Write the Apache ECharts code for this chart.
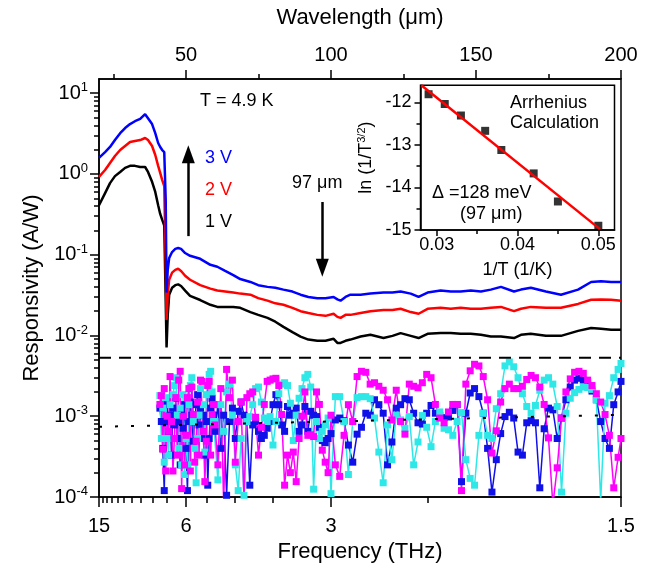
<!DOCTYPE html>
<html>
<head>
<meta charset="utf-8">
<script src="https://cdn.jsdelivr.net/npm/echarts@6/dist/echarts.min.js"></script>
<style>
html, body { margin: 0; padding: 0; background: #fff; }
#chart { width: 654px; height: 570px; }
</style>
</head>
<body>
<div id="chart"></div>
<script>
// Wavelength (µm) = C / frequency (THz), using c ≈ 300 µm·THz
const C_UM_THZ = 300;

// ---- Photoresponse spectra (wavelength in µm, responsivity in A/W) ----
const spectrumWavelength = [20.0, 22.1, 23.8, 25.5, 27.3, 29.0, 30.7, 32.4, 34.2, 35.9,
  36.9, 38.3, 39.4, 40.4, 41.1, 41.8, 42.5, 43.0, 43.3, 43.7,
  44.2, 45.2, 46.3, 47.3, 48.3, 49.7, 51.4, 54.9, 58.4, 60.8,
  63.5, 66.3, 68.7, 72.2, 74.9, 78.1, 80.8, 83.6, 86.7, 89.5,
  92.2, 95.3, 98.1, 100.9, 102.2, 103.3, 105.0, 106.7, 110.2, 113.6,
  118.1, 121.2, 124.0, 127.5, 130.2, 133.3, 137.8, 141.3, 144.7, 148.2,
  151.7, 155.1, 158.6, 163.1, 165.5, 168.9, 174.1, 179.3, 185.2, 189.7,
  193.1, 196.6, 200.0];
const responsivity3V = [1.58, 1.87, 2.16, 2.63, 3.2, 3.7, 4.15, 4.5, 4.8, 5.5,
  4.9, 4.15, 3.2, 2.42, 2.16, 1.98, 1.87, 0.48, 0.034, 0.065,
  0.091, 0.108, 0.118, 0.121, 0.118, 0.105, 0.097, 0.089, 0.075, 0.071,
  0.063, 0.056, 0.05, 0.046, 0.042, 0.04, 0.039, 0.037, 0.035, 0.032,
  0.030, 0.029, 0.029, 0.030, 0.028, 0.027, 0.030, 0.032, 0.032, 0.033,
  0.034, 0.034, 0.035, 0.033, 0.030, 0.034, 0.036, 0.035, 0.035, 0.036,
  0.035, 0.037, 0.040, 0.035, 0.037, 0.039, 0.035, 0.032, 0.037, 0.046,
  0.047, 0.046, 0.046];
const responsivity2V = [0.92, 1.12, 1.37, 1.67, 1.98, 2.22, 2.49, 2.56, 2.63, 2.79,
  2.63, 2.22, 1.72, 1.26, 1.03, 0.84, 0.71, 0.086, 0.0156, 0.032,
  0.049, 0.06, 0.065, 0.067, 0.063, 0.055, 0.049, 0.042, 0.038, 0.036,
  0.035, 0.034, 0.033, 0.032, 0.029, 0.027, 0.025, 0.024, 0.022, 0.020,
  0.019, 0.018, 0.0175, 0.0186, 0.017, 0.0165, 0.018, 0.018, 0.019, 0.020,
  0.0207, 0.0207, 0.0214, 0.0195, 0.0186, 0.0214, 0.022, 0.0214, 0.022, 0.0214,
  0.0214, 0.022, 0.0226, 0.020, 0.0214, 0.0226, 0.022, 0.022, 0.0246, 0.0277,
  0.028, 0.0277, 0.027];
const responsivity1V = [0.41, 0.58, 0.77, 0.94, 1.06, 1.19, 1.26, 1.26, 1.22, 1.22,
  1.06, 0.80, 0.60, 0.41, 0.32, 0.27, 0.23, 0.0275, 0.0071, 0.018,
  0.032, 0.039, 0.042, 0.043, 0.041, 0.036, 0.031, 0.0275, 0.024, 0.0226,
  0.0226, 0.0226, 0.022, 0.0195, 0.018, 0.0165, 0.0148, 0.0128, 0.011, 0.0097,
  0.0089, 0.0086, 0.0086, 0.0091, 0.0081, 0.0081, 0.0086, 0.0089, 0.0097, 0.0102,
  0.0093, 0.0099, 0.0107, 0.0099, 0.0093, 0.0105, 0.0107, 0.0107, 0.0105, 0.0105,
  0.0102, 0.0097, 0.0097, 0.0093, 0.0102, 0.0105, 0.0099, 0.0099, 0.0114, 0.0124,
  0.0121, 0.0118, 0.0118];

// ---- Zero-bias / noise traces (values in units of 1e-4 A/W) ----
const NOISE_UNIT = 1e-4;
const noiseWavelength = [41, 41.5, 42, 42.5, 43, 43.5, 44, 44.5, 45, 45.5,
  46, 46.5, 47, 47.5, 48, 48.5, 49, 49.5, 50, 50.5,
  51, 51.5, 52, 52.5, 53, 53.5, 54, 54.5, 55, 55.5,
  56, 56.5, 57, 57.5, 58, 58.5, 59, 59.5,
  60, 61, 62, 63, 64, 65, 66, 67, 68, 69,
  70, 71, 72, 73, 74, 75, 76, 77, 78, 79,
  80, 81, 82, 83, 84, 85, 86, 87, 88, 89,
  90, 91, 92, 93, 94, 95, 96, 97, 98, 99,
  100, 101.5, 103, 104.5, 106, 107.5, 109, 110.5, 112, 113.5,
  115, 116.5, 118, 119.5, 121, 122.5, 124, 125.5, 127, 128.5,
  130, 131.5, 133, 134.5, 136, 137.5, 139, 140.5, 142, 143.5,
  145, 146.5, 148, 149.5, 151, 152.5, 154, 155.5, 157, 158.5,
  160, 161.5, 163, 164.5, 166, 167.5, 169, 170.5, 172, 173.5,
  175, 176.5, 178, 179.5, 181, 182.5, 184, 185.5, 187, 188.5,
  190, 191.5, 193, 194.5, 196, 197.5, 199, 200];
const noiseMagenta = [14, 18, 3.9, 22, 2.1, 10, 6.5, 31, 8.6, 2.1,
  5.3, 17, 3.3, 28, 36, 1.27, 10, 2.5, 5.8, 17,
  22, 2.1, 23, 10.5, 2.7, 4.9, 15, 3.3, 28, 27,
  6.5, 1.55, 4.9, 24, 27, 3.3, 10.5, 14,
  7.8, 2.5, 22, 0.8, 38, 17, 28, 2.7, 8.6, 15,
  0.9, 17, 19, 20, 9.7, 3.3, 7.3, 14, 27, 28,
  29, 29.5, 24, 10.5, 1.4, 3.3, 2, 3.6, 1.55, 5.3,
  10, 20, 5.8, 5.9, 5.6, 20, 14, 3.8, 2.7, 2,
  10.3, 2.5, 1.8, 5.8, 13.9, 8.6, 31, 36, 35, 25,
  26, 23.5, 21, 16, 9, 21, 8.6, 6, 25, 23.5,
  22.5, 26, 33, 30, 14, 9.5, 8.3, 11.3, 14, 14,
  1.2, 25, 36.5, 44, 42, 31, 16, 3.5, 6.6, 15,
  22, 25, 22, 22, 23.5, 28.5, 32, 30, 23, 14,
  5.4, 0.8, 2.3, 9.5, 20, 29, 35, 36, 34, 28,
  24, 19, 15, 10.5, 5.8, 1.3, 3.1, 5.3];
const noiseCyan = [18, 5.3, 12.6, 2.7, 17, 5.3, 3.3, 13.9, 8.6, 18.5,
  24, 30, 10.3, 4, 12.6, 2.5, 18.5, 1.9, 5.3, 2.5,
  13.9, 24, 30, 8.6, 4, 1.5, 5.3, 10.3, 22, 6.5,
  13.9, 3.6, 18.5, 24, 33, 36, 20, 8.6,
  8.6, 1.63, 13.9, 6.5, 20, 25, 10.3, 2.5, 1.2, 5.3,
  1.05, 8.6, 9.9, 13.9, 22, 23, 15, 9.5, 8.6, 9.9,
  4.4, 8.6, 19, 25, 26, 24, 14.5, 5, 10.3, 16.7,
  22, 30, 33, 23, 1.25, 8.6, 5.3, 6.5, 7.8, 9.5,
  1.1, 17.5, 17.5, 8.6, 1.9, 8.6, 17, 17.5, 17.5, 16.5,
  9.5, 3.6, 1.5, 7.8, 2.9, 10.3, 9, 7.1, 9.9, 2.5,
  4.8, 10.2, 7.3, 4.2, 8.6, 11.3, 7.1, 6.8, 5.8, 8.6,
  11.1, 2.9, 1.7, 1.4, 5.8, 10.9, 5.8, 5.3, 12.4, 19,
  42, 47, 41, 30, 19, 13.2, 10.9, 13.6, 21, 28,
  30, 25, 13.2, 1.15, 10.9, 16.7, 19.6, 21.5, 23, 22.7,
  21.5, 16, 0.9, 14.5, 18, 30, 38, 45];
const noiseBlue = [12.6, 8.6, 4, 1.2, 8.6, 13.9, 5.8, 10.3, 3.3, 12.6,
  7.8, 16.7, 5.3, 8.6, 2.5, 11.5, 7.1, 13.9, 4, 1.2,
  8.6, 15, 10.3, 4.9, 8.6, 13.9, 18.5, 7.8, 12.6, 5.3,
  10.3, 3.3, 8.6, 1.4, 5.3, 12.6, 16.7, 10.3,
  6.5, 13.9, 4, 10.3, 1.05, 8.6, 12.6, 5.3, 11.5, 15,
  10.3, 8.6, 1.4, 7.8, 8.6, 6.5, 5.3, 5.8, 7.1, 8.6,
  13.9, 18.5, 13.9, 7.8, 6.5, 13.2, 10.3, 10.9, 12.6, 6.5,
  7.8, 13.2, 6.5, 11.5, 10.3, 9.9, 7.3, 5, 4.7, 5.3,
  6.1, 9, 9.5, 8.8, 4.4, 2.7, 6, 7.3, 10.9, 10.3,
  16, 13.9, 10.9, 2.5, 4.8, 12.6, 13.9, 16.5, 16, 10.9,
  8.3, 8, 10.9, 13.6, 10.9, 10.2, 9.6, 9.8, 11.8, 13.9,
  1.55, 10.9, 19.4, 22, 17.5, 10.9, 4, 1.15, 2.9, 6.1,
  9.9, 11.2, 9.5, 3.6, 3.3, 8.3, 8.8, 8.3, 1.3, 7,
  12.6, 12, 5.3, 9.5, 16, 23, 28, 29.5, 28, 25,
  20.5, 16, 8.6, 5.3, 4, 13.9, 20, 27];

// Reference levels (A/W)
const dashedLevel = 5.3e-3;
const dottedLevelEnds = [7.4e-4, 1.04e-3]; // at 20 µm and 200 µm
const levelWavelengthEnds = [20, 200];

// Axis ticks
const freqMajor = [15, 6, 3, 1.5];
const freqMinor = [14.1, 13.2, 12.3, 11.4, 10.5, 9.6, 8.7, 7.8, 6.9, 5.25, 4.5, 3.75, 2.25];
const wavelengthMajor = [50, 100, 150, 200];
const wavelengthMinor = [25, 75, 125, 175];
const decades = [1e-4, 1e-3, 1e-2, 1e-1, 1, 10];
const decadeMinors = [];
[1e-4, 1e-3, 1e-2, 1e-1, 1].forEach(d => { for (let m = 2; m <= 9; m++) decadeMinors.push(m * d); });

// ---- Arrhenius inset ----
const invTemperature = [0.029, 0.031, 0.033, 0.036, 0.038, 0.042, 0.045, 0.050];
const lnSignal = [-11.81, -12.04, -12.31, -12.67, -13.12, -13.67, -14.33, -14.9];
const fitInvTemperature = [0.0281, 0.0502];
const fitLnSignal = [-11.6, -14.98];
const insetXMajor = [0.03, 0.04, 0.05];
const insetXMinor = [0.035, 0.045];
const insetYMajor = [-12, -13, -14, -15];
const insetYMinor = [-12.5, -13.5, -14.5];

// Annotation arrows (data coordinates)
const biasArrow = { wavelength: 50.8, from: 0.17, to: 1.75 };
const peakArrow = { wavelength: 97, from: 0.45, to: 0.069 };

const FONT = '"Liberation Sans", Arial, Helvetica, sans-serif';
const zip = (xs, ys, k) => xs.map((x, i) => [x, ys[i] * (k || 1)]);
const toWavelength = f => C_UM_THZ / f;

const axisLineStyle = { color: '#000', width: 1.5 };
const tickStyle = { color: '#000', width: 1.5 };

function mainX(extra) {
  return Object.assign({
    type: 'value', gridIndex: 0, min: 20, max: 200,
    splitLine: { show: false },
    axisLine: { show: false, onZero: false },
    axisLabel: { show: false },
    axisTick: { show: false }
  }, extra);
}

function noiseSeries(name, values, color) {
  return {
    name: name, type: 'line', xAxisIndex: 0, yAxisIndex: 0,
    data: zip(noiseWavelength, values, NOISE_UNIT),
    symbol: 'rect', symbolSize: 7, showAllSymbol: true,
    itemStyle: { color: color }, lineStyle: { color: color, width: 1.5 },
    silent: true, z: 2
  };
}

const option = {
  animation: false,
  backgroundColor: '#fff',
  textStyle: { fontFamily: FONT, color: '#000' },
  grid: [
    { left: 99, right: 33, top: 79, bottom: 73, show: true, borderColor: '#000', borderWidth: 1.5,
      backgroundColor: 'transparent', outerBoundsMode: 'none', containLabel: false },
    { left: 420.5, top: 85.3, width: 194, height: 144.7, show: true, borderColor: '#000', borderWidth: 1.5,
      backgroundColor: '#fff', outerBoundsMode: 'none', containLabel: false }
  ],
  xAxis: [
    mainX({
      position: 'bottom',
      axisLine: { show: true, onZero: false, lineStyle: axisLineStyle },
      axisTick: { show: true, length: 10, lineStyle: tickStyle, customValues: freqMajor.map(toWavelength) },
      axisLabel: {
        show: true, customValues: freqMajor.map(toWavelength), margin: 19,
        fontSize: 20, fontFamily: FONT, color: '#000',
        formatter: v => String(Number((C_UM_THZ / v).toFixed(2)))
      },
      name: 'Frequency (THz)', nameLocation: 'middle', nameGap: 41,
      nameTextStyle: { fontSize: 22, fontFamily: FONT, color: '#000' }
    }),
    mainX({
      position: 'bottom',
      axisTick: { show: true, length: 6, lineStyle: tickStyle, customValues: freqMinor.map(toWavelength) }
    }),
    mainX({
      position: 'top',
      axisLine: { show: true, onZero: false, lineStyle: axisLineStyle },
      axisTick: { show: true, length: 9, lineStyle: tickStyle, customValues: wavelengthMajor },
      axisLabel: {
        show: true, customValues: wavelengthMajor, margin: 14,
        fontSize: 20, fontFamily: FONT, color: '#000',
        formatter: v => String(Math.round(v))
      },
      name: 'Wavelength (\u03bcm)', nameLocation: 'middle', nameGap: 50,
      nameTextStyle: { fontSize: 22, fontFamily: FONT, color: '#000' }
    }),
    mainX({
      position: 'top',
      axisTick: { show: true, length: 5, lineStyle: tickStyle, customValues: wavelengthMinor }
    }),
    {
      type: 'value', gridIndex: 1, min: 0.028, max: 0.052, position: 'bottom',
      splitLine: { show: false },
      axisLine: { show: true, onZero: false, lineStyle: axisLineStyle },
      axisTick: { show: true, length: 6, lineStyle: tickStyle, customValues: insetXMajor },
      axisLabel: {
        customValues: insetXMajor, margin: 6, fontSize: 18, fontFamily: FONT, color: '#000',
        formatter: v => v.toFixed(2)
      },
      name: '1/T (1/K)', nameLocation: 'middle', nameGap: 31,
      nameTextStyle: { fontSize: 18, fontFamily: FONT, color: '#000' }
    },
    {
      type: 'value', gridIndex: 1, min: 0.028, max: 0.052, position: 'bottom',
      splitLine: { show: false },
      axisLine: { show: false, onZero: false },
      axisLabel: { show: false },
      axisTick: { show: true, length: 4, lineStyle: tickStyle, customValues: insetXMinor }
    }
  ],
  yAxis: [
    {
      type: 'log', logBase: 10, gridIndex: 0, min: 1e-4, max: 15, position: 'left',
      splitLine: { show: false },
      axisLine: { show: true, onZero: false, lineStyle: axisLineStyle },
      axisTick: { show: true, length: 9, lineStyle: tickStyle, customValues: decades },
      axisLabel: {
        customValues: decades, margin: 11, color: '#000',
        formatter: v => '{b|10}{s|' + Math.round(Math.log10(v)) + '}',
        rich: {
          b: { fontSize: 20, lineHeight: 24, fontFamily: FONT, color: '#000' },
          s: { fontSize: 13, lineHeight: 13, verticalAlign: 'top', fontFamily: FONT, color: '#000' }
        }
      },
      name: 'Responsivity (A/W)', nameLocation: 'middle', nameGap: 50,
      nameTextStyle: { fontSize: 22, fontFamily: FONT, color: '#000' }
    },
    {
      type: 'log', logBase: 10, gridIndex: 0, min: 1e-4, max: 15, position: 'left',
      splitLine: { show: false },
      axisLine: { show: false, onZero: false },
      axisLabel: { show: false },
      axisTick: { show: true, length: 5, lineStyle: tickStyle, customValues: decadeMinors }
    },
    {
      type: 'value', gridIndex: 1, min: -15, max: -11.6, position: 'left',
      splitLine: { show: false },
      axisLine: { show: true, onZero: false, lineStyle: axisLineStyle },
      axisTick: { show: true, length: 6, lineStyle: tickStyle, customValues: insetYMajor },
      axisLabel: {
        customValues: insetYMajor, margin: 9, fontSize: 18, fontFamily: FONT, color: '#000',
        formatter: v => String(v)
      },
      name: '{a|ln (1/T}{s|3/2}{a|)}', nameLocation: 'middle', nameGap: 44,
      nameTextStyle: {
        rich: {
          a: { fontSize: 18, lineHeight: 20, fontFamily: FONT, color: '#000' },
          s: { fontSize: 11, lineHeight: 11, verticalAlign: 'top', fontFamily: FONT, color: '#000' }
        }
      }
    },
    {
      type: 'value', gridIndex: 1, min: -15, max: -11.6, position: 'left',
      splitLine: { show: false },
      axisLine: { show: false, onZero: false },
      axisLabel: { show: false },
      axisTick: { show: true, length: 4, lineStyle: tickStyle, customValues: insetYMinor }
    }
  ],
  series: [
    noiseSeries('noise-blue', noiseBlue, '#1010e8'),
    noiseSeries('noise-cyan', noiseCyan, '#2ee8e8'),
    noiseSeries('noise-magenta', noiseMagenta, '#ff00ff'),
    {
      name: 'dashed-level', type: 'line', xAxisIndex: 0, yAxisIndex: 0,
      data: levelWavelengthEnds.map(w => [w, dashedLevel]),
      symbol: 'none', lineStyle: { color: '#000', width: 2, type: [12, 8] }, silent: true, z: 3
    },
    {
      name: 'dotted-level', type: 'line', xAxisIndex: 0, yAxisIndex: 0,
      data: zip(levelWavelengthEnds, dottedLevelEnds),
      symbol: 'none', lineStyle: { color: '#000', width: 2, type: [3, 13] }, silent: true, z: 3
    },
    {
      name: '1 V', type: 'line', xAxisIndex: 0, yAxisIndex: 0,
      data: zip(spectrumWavelength, responsivity1V),
      symbol: 'none', lineStyle: { color: '#000', width: 2.5 }, silent: true, z: 4,
      markLine: {
        silent: true, animation: false, symbol: ['none', 'triangle'],
        label: { show: false }, emphasis: { disabled: true },
        lineStyle: { color: '#000', width: 2.5, type: 'solid' },
        data: [
          [{ coord: [biasArrow.wavelength, biasArrow.from], symbol: 'none' },
           { coord: [biasArrow.wavelength, biasArrow.to], symbol: 'triangle', symbolSize: [13, 18] }],
          [{ coord: [peakArrow.wavelength, peakArrow.from], symbol: 'none' },
           { coord: [peakArrow.wavelength, peakArrow.to], symbol: 'triangle', symbolSize: [13, 18] }]
        ]
      }
    },
    {
      name: '2 V', type: 'line', xAxisIndex: 0, yAxisIndex: 0,
      data: zip(spectrumWavelength, responsivity2V),
      symbol: 'none', lineStyle: { color: '#ff0000', width: 2.5 }, silent: true, z: 5
    },
    {
      name: '3 V', type: 'line', xAxisIndex: 0, yAxisIndex: 0,
      data: zip(spectrumWavelength, responsivity3V),
      symbol: 'none', lineStyle: { color: '#0000ff', width: 2.5 }, silent: true, z: 6
    },
    {
      name: 'arrhenius-points', type: 'scatter', xAxisIndex: 4, yAxisIndex: 2,
      data: zip(invTemperature, lnSignal),
      symbol: 'rect', symbolSize: 8, itemStyle: { color: '#000' }, silent: true, z: 7
    },
    {
      name: 'arrhenius-fit', type: 'line', xAxisIndex: 4, yAxisIndex: 2,
      data: zip(fitInvTemperature, fitLnSignal),
      symbol: 'none', lineStyle: { color: '#ff0000', width: 2.5 }, silent: true, z: 8, clip: true
    }
  ],
  graphic: [
    { type: 'text', left: 200, top: 92, style: { text: 'T = 4.9 K', font: '18px ' + FONT, fill: '#000' } },
    { type: 'text', left: 205, top: 149, style: { text: '3 V', font: '18px ' + FONT, fill: '#0000ff' } },
    { type: 'text', left: 205, top: 181, style: { text: '2 V', font: '18px ' + FONT, fill: '#ff0000' } },
    { type: 'text', left: 205, top: 213, style: { text: '1 V', font: '18px ' + FONT, fill: '#000' } },
    { type: 'text', left: 292, top: 174, style: { text: '97 \u03bcm', font: '18px ' + FONT, fill: '#000' } },
    { type: 'text', left: 510, top: 94, z: 100, style: { text: 'Arrhenius', font: '18px ' + FONT, fill: '#000' } },
    { type: 'text', left: 510, top: 114, z: 100, style: { text: 'Calculation', font: '18px ' + FONT, fill: '#000' } },
    { type: 'text', left: 432, top: 184, z: 100, style: { text: '\u0394 =128 meV', font: '18px ' + FONT, fill: '#000' } },
    { type: 'text', left: 460, top: 205, z: 100, style: { text: '(97 \u03bcm)', font: '18px ' + FONT, fill: '#000' } }
  ]
};

const chart = echarts.init(document.getElementById('chart'), null, { renderer: 'canvas' });
chart.setOption(option);
</script>
</body>
</html>
